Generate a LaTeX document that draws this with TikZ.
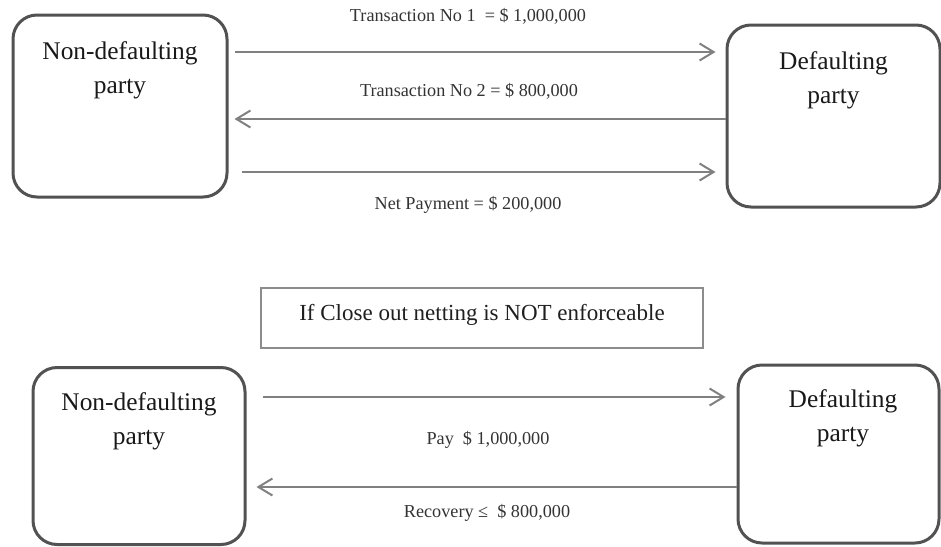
\documentclass[tikz,border=0pt]{standalone}
\usepackage{fontspec}
\setmainfont{Liberation Serif}
\usepackage{tikz}
\usetikzlibrary{arrows.meta}

\begin{document}
\begin{tikzpicture}[x=0.5pt,y=-0.5pt,
    party/.style={draw=black!68,line width=1.5pt,rounded corners=12pt,
                  inner sep=0pt,fill=white},
    partytxt/.style={align=center,text=black!90,
                  font=\fontsize{12.7}{17}\selectfont},
    amount/.style={text=black!80,font=\fontsize{9.1}{11}\selectfont},
    flow/.style={draw=black!50,line width=1pt,
                 -{Straight Barb[length=7pt,width=8.5pt]}},
    casebox/.style={draw=black!45,line width=0.7pt,minimum width=221pt,
                 minimum height=30pt,text height=8pt,text depth=6pt,
                 text=black!88,font=\fontsize{11.5}{14}\selectfont}]
     \useasboundingbox (0,0) rectangle (941,546);
     % netting enforceable
     \node[party,minimum width=107pt,minimum height=91pt] (ndA) at (120,106) {};
     \node[party,minimum width=106.5pt,minimum height=91pt] (dfB) at (833.5,116) {};
     \node[partytxt] (ndAtxt) at (120,70) {Non-defaulting\\party};
     \node[partytxt] (dfBtxt) at (833.5,80) {Defaulting\\party};
     \draw[flow,shorten <=3pt,shorten >=5pt] (ndA.east |- 0,52) -- (dfB.west |- 0,52);
     \draw[flow,shorten >=3pt] (dfB.west |- 0,119) -- (ndA.east |- 0,119);
     \draw[flow,shorten <=6.5pt,shorten >=5pt] (ndA.east |- 0,172) -- (dfB.west |- 0,172);
     \node[amount] (trOne) at (468,16) {Transaction No 1\ \ = \$ 1,000,000};
     \node[amount] (trTwo) at (469,91) {Transaction No 2 = \$ 800,000};
     \node[amount] (netPay) at (468,205) {Net Payment = \$ 200,000};
     % netting not enforceable
     \node[casebox] (notEnf) at (482,318) {If Close out netting is NOT enforceable};
     \node[party,minimum width=106pt,minimum height=88.5pt] (ndC) at (139,456) {};
     \node[party,minimum width=100.5pt,minimum height=89pt] (dfD) at (838.5,454) {};
     \node[partytxt] (ndCtxt) at (139,421) {Non-defaulting\\party};
     \node[partytxt] (dfDtxt) at (843,418.5) {Defaulting\\party};
     \draw[flow,shorten <=8pt,shorten >=5.5pt] (ndC.east |- 0,397) -- (dfD.west |- 0,397);
     \draw[flow,shorten >=5pt] (dfD.west |- 0,487) -- (ndC.east |- 0,487);
     \node[amount] (payAll) at (488,440) {Pay\ \ \$ 1,000,000};
     \node[amount] (recov) at (487,513) {Recovery ≤\ \ \$ 800,000};
    \end{tikzpicture}
\end{document}
